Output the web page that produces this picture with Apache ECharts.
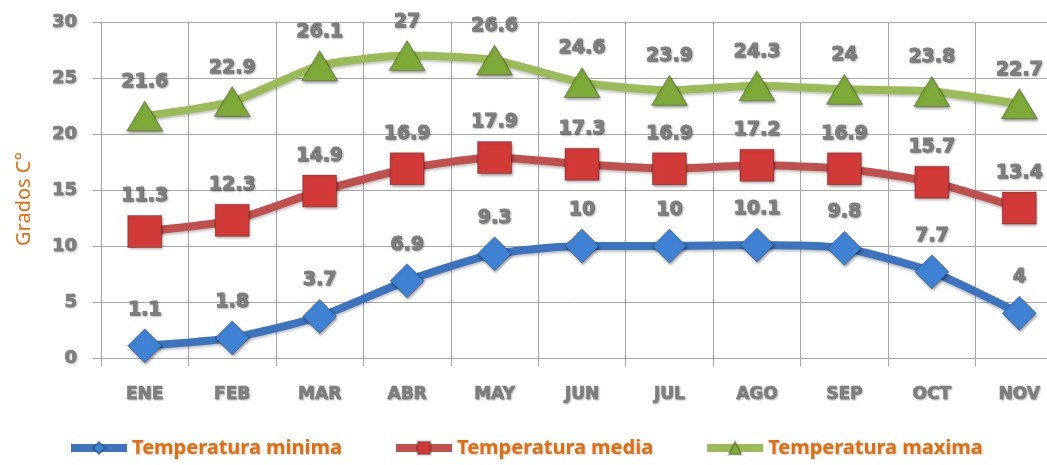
<!DOCTYPE html>
<html>
<head>
<meta charset="utf-8">
<script src="https://cdn.jsdelivr.net/npm/echarts@6/dist/echarts.min.js"></script>
<style>
  html, body { margin: 0; padding: 0; background: #fff; }
  #chart { width: 1047px; height: 465px; }
</style>
</head>
<body>
<div id="chart"></div>
<script>
// datos del grafico
var meses = ["ENE", "FEB", "MAR", "ABR", "MAY", "JUN", "JUL", "AGO", "SEP", "OCT", "NOV"];
var tempMinima = [1.1, 1.8, 3.7, 6.9, 9.3, 10, 10, 10.1, 9.8, 7.7, 4];
var tempMedia = [11.3, 12.3, 14.9, 16.9, 17.9, 17.3, 16.9, 17.2, 16.9, 15.7, 13.4];
var tempMaxima = [21.6, 22.9, 26.1, 27, 26.6, 24.6, 23.9, 24.3, 24, 23.8, 22.7];

var grisTexto = "#7f7f7f";

var labelStyle = {
  show: true,
  position: "top",
  distance: 9,
  color: grisTexto,
  fontFamily: "DejaVu Sans",
  fontWeight: "bold",
  fontSize: 19,
  textBorderColor: "#767676",
  textBorderWidth: 0.8,
  textShadowColor: "rgba(0,0,0,0.35)",
  textShadowBlur: 2,
  textShadowOffsetX: 1,
  textShadowOffsetY: 1,
};

function serie(nombre, datos, simbolo, tam, colorLinea, colorSimbolo) {
  return {
    name: nombre,
    type: "line",
    data: datos,
    smooth: 0.2,
    symbol: simbolo,
    symbolSize: tam,
    lineStyle: {
      width: 8,
      color: colorLinea,
      shadowColor: "rgba(0,0,0,0.25)",
      shadowBlur: 3,
      shadowOffsetY: 2,
    },
    itemStyle: {
      color: colorSimbolo,
      borderColor: "rgba(0,0,0,0.25)",
      borderWidth: 1,
      shadowColor: "rgba(0,0,0,0.4)",
      shadowBlur: 3,
      shadowOffsetX: 1,
      shadowOffsetY: 2,
    },
    label: labelStyle,
    z: 3,
  };
}

var ejeTexto = {
  color: grisTexto,
  fontFamily: "DejaVu Sans",
  fontWeight: "bold",
  fontSize: 18,
  textBorderColor: "#767676",
  textBorderWidth: 0.6,
  textShadowColor: "rgba(0,0,0,0.3)",
  textShadowBlur: 2,
  textShadowOffsetX: 1,
  textShadowOffsetY: 1,
};

var myChart = echarts.init(document.getElementById("chart"));
var option = {
  animation: false,
  grid: {
    left: 101,
    width: 962,
    top: 22,
    bottom: 107,
    containLabel: false,
    outerBoundsMode: "none",
  },
  legend: {
    bottom: 2,
    left: 62,
    itemWidth: 56,
    itemHeight: 16,
    itemGap: 50,
    lineStyle: { width: 8 },
    textStyle: {
      color: "#e46c0a",
      fontFamily: "Noto Sans",
      fontWeight: "bold",
      fontSize: 20,
      textShadowColor: "rgba(0,0,0,0.2)",
      textShadowBlur: 2,
      textShadowOffsetX: 1,
      textShadowOffsetY: 1,
    },
    data: ["Temperatura minima", "Temperatura media", "Temperatura maxima"],
  },
  xAxis: {
    type: "category",
    data: meses,
    boundaryGap: true,
    axisLine: { lineStyle: { color: "#a6a6a6" } },
    axisTick: { show: true, length: 8, lineStyle: { color: "#a6a6a6" } },
    splitLine: { show: true, lineStyle: { color: "#a6a6a6" } },
    axisLabel: Object.assign({ margin: 28 }, ejeTexto, { fontSize: 17 }),
  },
  yAxis: {
    type: "value",
    min: 0,
    max: 30,
    interval: 5,
    name: "Grados C°",
    nameLocation: "middle",
    nameRotate: 90,
    nameGap: 67,
    nameTextStyle: {
      color: "#e46c0a",
      fontFamily: "Noto Sans",
      fontSize: 20,
      padding: [0, 0, 0, -18],
    },
    axisLine: { show: true, lineStyle: { color: "#a6a6a6" } },
    axisTick: { show: true, length: 8, lineStyle: { color: "#a6a6a6" } },
    splitLine: { show: true, lineStyle: { color: "#a6a6a6" } },
    axisLabel: Object.assign({ margin: 24 }, ejeTexto),
  },
  series: [
    serie("Temperatura minima", tempMinima, "diamond", [34, 34], "#3d74bf", "#3f82d4"),
    serie("Temperatura media", tempMedia, "rect", [34, 32], "#c0504d", "#d23a38"),
    serie("Temperatura maxima", tempMaxima, "triangle", [36, 30], "#9bbb59", "#7daa38"),
  ],
};
myChart.setOption(option);
</script>
</body>
</html>
